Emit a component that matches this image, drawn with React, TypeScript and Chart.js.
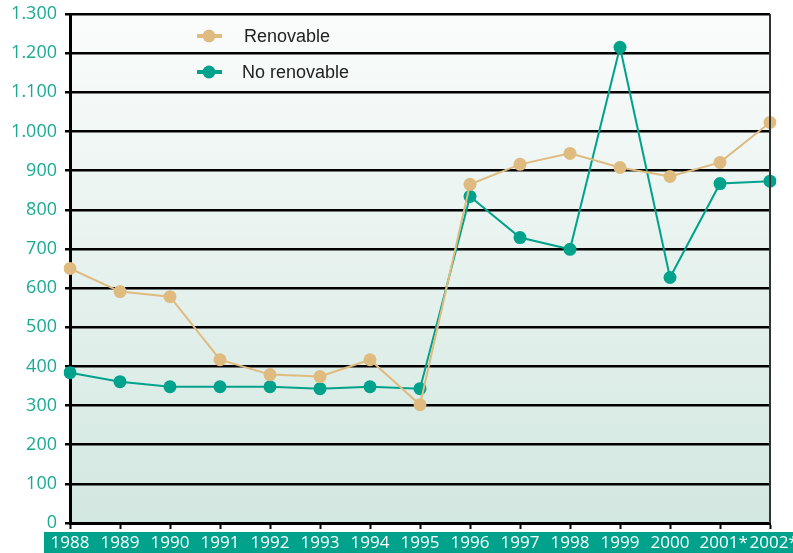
import React, { useEffect, useRef } from "react";
import { Chart, registerables } from "chart.js";

Chart.register(...registerables);

const years = ["1988", "1989", "1990", "1991", "1992", "1993", "1994", "1995", "1996", "1997", "1998", "1999", "2000", "2001*", "2002*"];
const renovable = [650, 591, 578, 417, 379, 374, 417, 302, 865, 916, 944, 908, 885, 921, 1023];
const noRenovable = [384, 361, 348, 348, 348, 343, 348, 343, 834, 729, 699, 1215, 627, 867, 873];
const seriesNames = ["Renovable", "No renovable"];
const seriesColors = ["#dfbb80", "#00a28c"];

const fmt = (v: number) => {
  const s = String(Math.round(v));
  return s.replace(/\B(?=(\d{3})+(?!\d))/g, ".");
};

const decorPlugin = {
  id: "decor",
  beforeDraw(chart: any) {
    const { ctx, chartArea } = chart;
    const g = ctx.createLinearGradient(0, chartArea.top, 0, chartArea.bottom);
    g.addColorStop(0, "#fafcfb");
    g.addColorStop(1, "#d2e7e0");
    ctx.save();
    ctx.fillStyle = g;
    ctx.fillRect(chartArea.left, chartArea.top, chartArea.right - chartArea.left, chartArea.bottom - chartArea.top);
    ctx.restore();
  },
  afterDraw(chart: any) {
    const { ctx, chartArea } = chart;
    const xs = chart.scales.x;
    ctx.save();
    // right border
    ctx.strokeStyle = "#333";
    ctx.lineWidth = 2;
    ctx.beginPath();
    ctx.moveTo(chartArea.right, chartArea.top);
    ctx.lineTo(chartArea.right, chartArea.bottom);
    ctx.stroke();
    // x label band
    ctx.fillStyle = "#00a28c";
    ctx.fillRect(44, 532, chart.width - 44, chart.height - 532);
    ctx.fillStyle = "#ffffff";
    ctx.font = "17px 'Open Sans'";
    ctx.textAlign = "left";
    ctx.textBaseline = "middle";
    years.forEach((y, i) => {
      const core = y.replace("*", "");
      const w = ctx.measureText(core).width;
      ctx.fillText(y, xs.getPixelForValue(i) - w / 2 - (y.endsWith("*") ? 1 : 0), 543);
    });
    // legend
    const legendY = [36, 72];
    seriesNames.forEach((name, i) => {
      const y = legendY[i];
      ctx.strokeStyle = seriesColors[i];
      ctx.lineWidth = 4;
      ctx.beginPath();
      ctx.moveTo(197, y);
      ctx.lineTo(222, y);
      ctx.stroke();
      ctx.fillStyle = seriesColors[i];
      ctx.beginPath();
      ctx.arc(209, y, 6.5, 0, Math.PI * 2);
      ctx.fill();
      ctx.fillStyle = "#222";
      ctx.font = "18px 'Liberation Sans'";
      ctx.textAlign = "left";
      ctx.textBaseline = "middle";
      ctx.fillText(name, i === 0 ? 244 : 242, y + 1);
    });
    ctx.restore();
  },
};

export default function App() {
  const ref = useRef<HTMLCanvasElement>(null);
  useEffect(() => {
    document.body.style.margin = "0";
    const chart = new Chart(ref.current!, {
      type: "line",
      data: {
        labels: years,
        datasets: [
          {
            label: seriesNames[0],
            data: renovable,
            borderColor: seriesColors[0],
            backgroundColor: seriesColors[0],
            borderWidth: 2,
            pointRadius: 6.5,
            pointBorderWidth: 0,
            pointBackgroundColor: seriesColors[0],
          },
          {
            label: seriesNames[1],
            data: noRenovable,
            borderColor: seriesColors[1],
            backgroundColor: seriesColors[1],
            borderWidth: 2,
            pointRadius: 6.5,
            pointBorderWidth: 0,
            pointBackgroundColor: seriesColors[1],
          },
        ],
      },
      options: {
        animation: false,
        responsive: false,
        layout: { padding: { top: 14, right: 23, left: 0, bottom: 0 } },
        plugins: { legend: { display: false }, tooltip: { enabled: false } },
        scales: {
          x: {
            offset: false,
            afterFit: (s: any) => {
              s.height = 30;
              s.paddingLeft = 0;
              s.paddingRight = 0;
            },
            grid: { drawOnChartArea: false, drawTicks: true, tickLength: 6, tickColor: "#000", tickWidth: 2 },
            border: { color: "#000", width: 3 },
            ticks: { display: false },
          },
          y: {
            min: 0,
            max: 1300,
            afterFit: (s: any) => {
              s.width = 70;
              s.paddingTop = 0;
              s.paddingBottom = 0;
            },
            grid: { color: "#000", lineWidth: 2.5, drawTicks: true, tickLength: 5, tickColor: "#000" },
            border: { color: "#000", width: 3 },
            ticks: {
              stepSize: 100,
              padding: 8,
              color: "#1aaa94",
              font: { family: "'Open Sans'", size: 18 },
              callback: (v: any) => fmt(Number(v)),
            },
          },
        },
      },
      plugins: [decorPlugin],
    });
    return () => chart.destroy();
  }, []);
  return (
    <div style={{ width: 793, height: 553 }}>
      <canvas ref={ref} width={793} height={553} style={{ display: "block" }} />
    </div>
  );
}
